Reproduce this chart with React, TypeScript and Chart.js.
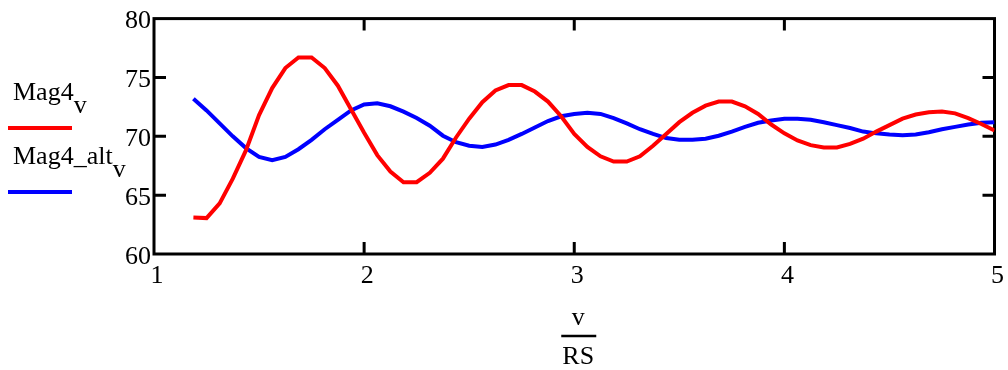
import React, { useEffect, useRef } from "react";
import { Chart, registerables } from "chart.js";

Chart.register(...registerables);

// v/RS sample points
const xValues = [
  1.1875, 1.25, 1.3125, 1.375, 1.4375, 1.5, 1.5625, 1.625, 1.6875, 1.75,
  1.8125, 1.875, 1.9375, 2, 2.0625, 2.125, 2.1875, 2.25, 2.3125, 2.375,
  2.4375, 2.5, 2.5625, 2.625, 2.6875, 2.75, 2.8125, 2.875, 2.9375, 3,
  3.0625, 3.125, 3.1875, 3.25, 3.3125, 3.375, 3.4375, 3.5, 3.5625, 3.625,
  3.6875, 3.75, 3.8125, 3.875, 3.9375, 4, 4.0625, 4.125, 4.1875, 4.25,
  4.3125, 4.375, 4.4375, 4.5, 4.5625, 4.625, 4.6875, 4.75, 4.8125, 4.875,
  4.9375, 5,
];

const mag4 = [
  63.1, 63.05, 64.3, 66.4, 68.8, 71.8, 74.1, 75.8, 76.7, 76.7,
  75.8, 74.3, 72.3, 70.3, 68.4, 67.0, 66.1, 66.1, 66.9, 68.1,
  69.9, 71.5, 72.9, 73.9, 74.35, 74.35, 73.8, 72.95, 71.7, 70.2,
  69.1, 68.3, 67.85, 67.85, 68.3, 69.2, 70.2, 71.2, 72.0, 72.6,
  72.95, 72.95, 72.55, 71.9, 71.0, 70.25, 69.65, 69.25, 69.05, 69.05,
  69.35, 69.8, 70.4, 70.95, 71.5, 71.85, 72.05, 72.1, 71.95, 71.55,
  71.05, 70.5,
];

const mag4Alt = [
  73.2, 72.2, 71.1, 70.0, 69.0, 68.25, 67.97, 68.25, 68.9, 69.7,
  70.6, 71.4, 72.2, 72.7, 72.8, 72.55, 72.1, 71.55, 70.9, 70.05,
  69.5, 69.2, 69.1, 69.3, 69.7, 70.2, 70.75, 71.3, 71.7, 71.9,
  72.0, 71.9, 71.55, 71.1, 70.6, 70.2, 69.85, 69.7, 69.7, 69.8,
  70.05, 70.4, 70.8, 71.15, 71.35, 71.5, 71.5, 71.4, 71.2, 70.95,
  70.7, 70.4, 70.25, 70.15, 70.1, 70.15, 70.35, 70.6, 70.8, 71.0,
  71.15, 71.2,
];

const xTickValues = [1, 2, 3, 4, 5];
const yTickValues = [60, 65, 70, 75, 80];
const seriesNames = ["Mag4", "Mag4_alt"];
const seriesSub = "v";
const seriesColors = ["#ff0000", "#0000ff"];
const axisNumerator = "v";
const axisDenominator = "RS";

const FONT = "'Liberation Serif', 'Times New Roman', serif";
const FONT_SIZE = 26;

const framePlugin = {
  id: "mathcadFrame",
  beforeDatasetsDraw(chart: any) {
    const { ctx, chartArea: a, scales } = chart;
    const x = scales.x;
    const y = scales.y;
    ctx.save();
    ctx.strokeStyle = "#000";
    ctx.lineWidth = 3;
    ctx.strokeRect(a.left, a.top, a.right - a.left, a.bottom - a.top);
    const tl = 12;
    ctx.beginPath();
    xTickValues.slice(1, -1).forEach((v) => {
      const px = x.getPixelForValue(v);
      ctx.moveTo(px, a.bottom);
      ctx.lineTo(px, a.bottom - tl);
      ctx.moveTo(px, a.top);
      ctx.lineTo(px, a.top + tl);
    });
    yTickValues.slice(1, -1).forEach((v) => {
      const py = y.getPixelForValue(v);
      ctx.moveTo(a.left, py);
      ctx.lineTo(a.left + tl, py);
      ctx.moveTo(a.right, py);
      ctx.lineTo(a.right - tl, py);
    });
    ctx.stroke();
    ctx.restore();
  },
  afterDraw(chart: any) {
    const { ctx, chartArea: a } = chart;
    ctx.save();
    ctx.fillStyle = "#000";
    ctx.font = `${FONT_SIZE}px ${FONT}`;
    ctx.textBaseline = "alphabetic";
    ctx.textAlign = "left";
    // legend
    const entries = [
      { baseline: 100, lineY: 128 },
      { baseline: 164, lineY: 192 },
    ];
    entries.forEach((e, i) => {
      ctx.fillStyle = "#000";
      ctx.fillText(seriesNames[i], 13, e.baseline);
      const w = ctx.measureText(seriesNames[i]).width;
      ctx.fillText(seriesSub, 13 + w, e.baseline + 13);
      ctx.strokeStyle = seriesColors[i];
      ctx.lineWidth = 4;
      ctx.beginPath();
      ctx.moveTo(8, e.lineY);
      ctx.lineTo(72, e.lineY);
      ctx.stroke();
    });
    // axis title as fraction
    const cx = (a.left + a.right) / 2 + 4;
    ctx.textAlign = "center";
    ctx.fillStyle = "#000";
    ctx.fillText(axisNumerator, cx, 325);
    ctx.fillText(axisDenominator, cx, 364);
    ctx.strokeStyle = "#000";
    ctx.lineWidth = 2.5;
    ctx.beginPath();
    ctx.moveTo(cx - 17, 336);
    ctx.lineTo(cx + 18, 336);
    ctx.stroke();
    ctx.restore();
  },
};

export default function App() {
  const canvasRef = useRef<HTMLCanvasElement | null>(null);

  useEffect(() => {
    const canvas = canvasRef.current;
    if (!canvas) return;
    const chart = new Chart(canvas, {
      type: "line",
      data: {
        datasets: [
          {
            label: seriesNames[0],
            data: xValues.map((x, i) => ({ x, y: mag4[i] })),
            borderColor: seriesColors[0],
            borderWidth: 4,
            pointRadius: 0,
            tension: 0,
            fill: false,
          },
          {
            label: seriesNames[1],
            data: xValues.map((x, i) => ({ x, y: mag4Alt[i] })),
            borderColor: seriesColors[1],
            borderWidth: 4,
            pointRadius: 0,
            tension: 0,
            fill: false,
          },
        ],
      },
      options: {
        responsive: false,
        animation: false,
        layout: { padding: { left: 0, top: 14, right: 12, bottom: 0 } },
        plugins: {
          legend: { display: false },
          tooltip: { enabled: false },
        },
        scales: {
          x: {
            type: "linear",
            min: 1,
            max: 5,
            afterBuildTicks: (scale: any) => {
              scale.ticks = xTickValues.map((v) => ({ value: v }));
            },
            afterFit: (scale: any) => {
              scale.height = 116;
            },
            grid: { display: false, drawTicks: false },
            border: { display: false },
            ticks: {
              padding: 7,
              labelOffset: 3,
              color: "#000",
              font: { family: FONT, size: FONT_SIZE },
              maxRotation: 0,
              autoSkip: false,
            },
          },
          y: {
            type: "linear",
            min: 60,
            max: 80,
            afterBuildTicks: (scale: any) => {
              scale.ticks = yTickValues.map((v) => ({ value: v }));
            },
            afterFit: (scale: any) => {
              scale.width = 154;
            },
            grid: { display: false, drawTicks: false },
            border: { display: false },
            ticks: {
              padding: 3,
              labelOffset: 3,
              color: "#000",
              font: { family: FONT, size: FONT_SIZE },
              autoSkip: false,
            },
          },
        },
      },
      plugins: [framePlugin],
    });
    return () => chart.destroy();
  }, []);

  return (
    <div style={{ position: "fixed", left: 0, top: 0, width: 1008, height: 370, background: "#fff" }}>
      <canvas ref={canvasRef} width={1008} height={370} style={{ display: "block" }} />
    </div>
  );
}
